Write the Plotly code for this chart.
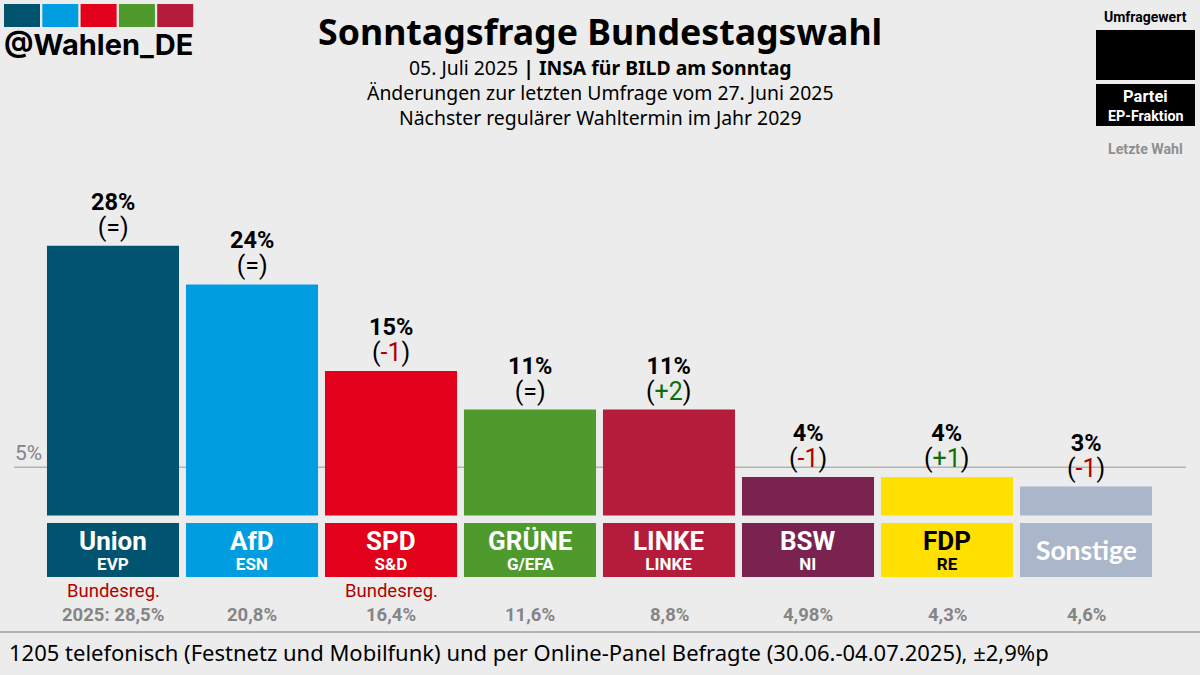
import plotly.graph_objects as go

# Umfragewerte
parteien = ["Union", "AfD", "SPD", "GRÜNE", "LINKE", "BSW", "FDP", "Sonstige"]
fraktionen = ["EVP", "ESN", "S&D", "G/EFA", "LINKE", "NI", "RE", ""]
werte = [28, 24, 15, 11, 11, 4, 4, 3]
aenderungen = ["=", "=", "-1", "=", "+2", "-1", "+1", "-1"]
letzte_wahl = ["2025: 28,5%", "20,8%", "16,4%", "11,6%", "8,8%", "4,98%", "4,3%", "4,6%"]
regierung = ["Bundesreg.", "", "Bundesreg.", "", "", "", "", ""]
farben = ["#005470", "#009ee0", "#e2001a", "#4f9a2c", "#b51c3c", "#7a2350", "#ffe000", "#aab6c9"]
textfarben = ["white", "white", "white", "white", "white", "white", "black", "white"]
logo_farben = ["#005470", "#009ee0", "#e2001a", "#4f9a2c", "#b51c3c"]

W, H = 1200, 675
PX_PRO_PROZENT = 9.63
Y0 = 515.5  # Pixelzeile der Nulllinie
ROBOTO = "Roboto"
NOTO = "Noto Sans"
GRAU = "#858585"


def px_y(y):
    return 1 - y / H


def px_x(x):
    return x / W


def text(x, y, s, size, color="black", font=ROBOTO, xref="paper", anchor="center"):
    fig.add_annotation(
        x=x, y=px_y(y), xref=xref, yref="paper", text=s, showarrow=False,
        xanchor=anchor, yanchor="middle", align="center",
        font=dict(family=font, size=size, color=color),
    )


def box(x0, y0, x1, y1, color, layer="above"):
    fig.add_shape(
        type="rect", xref="paper", yref="paper", layer=layer,
        x0=px_x(x0), x1=px_x(x1), y0=px_y(y0), y1=px_y(y1),
        fillcolor=color, line_width=0,
    )


fig = go.Figure()
idx = list(range(len(parteien)))

# Balken
fig.add_trace(go.Bar(x=idx, y=werte, width=0.95, marker=dict(color=farben, line_width=0), hoverinfo="skip"))

# Namensfelder unter den Balken
box_unten = (577 - Y0) / PX_PRO_PROZENT
box_oben = (523 - Y0) / PX_PRO_PROZENT
fig.add_trace(go.Bar(
    x=idx, y=[box_unten - box_oben] * len(idx), base=-box_unten, width=0.95,
    marker=dict(color=farben, line_width=0), hoverinfo="skip",
))

# 5%-Linie
fig.add_shape(type="line", xref="paper", yref="y", layer="below",
              x0=px_x(14), x1=px_x(1186), y0=5, y1=5, line=dict(color="#b4b4b4", width=1.5))
text(px_x(28), 453, "5%", 21, GRAU)

for i in idx:
    top = Y0 - werte[i] * PX_PRO_PROZENT
    a = aenderungen[i]
    if a == "=":
        inner = "="
    else:
        c = "#b00000" if a.startswith("-") else "#0b6e0b"
        inner = f'<span style="color:{c}">{a}</span>'
    # Wert und Aenderung als ein Label, Zeilenabstand kommt von der Grundgroesse
    label = f'<span style="font-size:23.5px"><b>{werte[i]}%</b></span><br><span style="font-size:25px">({inner})</span>'
    text(i, top - 31, label, 20, xref="x")

    if fraktionen[i]:
        name = (f'<span style="font-size:26px"><b>{parteien[i]}</b></span><br>'
                f'<span style="font-size:17px"><b>{fraktionen[i]}</b></span>')
        text(i, 549.5, name, 15, textfarben[i], xref="x")
    else:
        text(i, 550, f"<b>{parteien[i]}</b>", 26.4, textfarben[i], font="Lato", xref="x")

    if regierung[i]:
        text(i, 591, regierung[i], 18.5, "#b00000", xref="x")
    text(i, 615, f"<b>{letzte_wahl[i]}</b>", 18.5, GRAU, xref="x")

# Kopf
text(0.5, 31, "<b>Sonntagsfrage Bundestagswahl</b>", 35.7, font=NOTO)
text(0.5, 67, "05. Juli 2025 <b>| INSA für BILD am Sonntag</b>", 19.4, font=NOTO)
text(0.5, 92, "Änderungen zur letzten Umfrage vom 27. Juni 2025", 19.4, font=NOTO)
text(0.5, 118, "Nächster regulärer Wahltermin im Jahr 2029", 19.4, font=NOTO)

# Logo
for n, c in enumerate(logo_farben):
    links = 4 + n * 38.3
    box(links, 4, links + 36, 27, c)
text(px_x(2), 45, "<b>@Wahlen_DE</b>", 29, font="Inter", anchor="left")

# Legende
text(px_x(1145.5), 17, "<b>Umfragewert</b>", 14)
box(1096, 30, 1195, 80, "black")
box(1096, 84, 1195, 126, "black")
text(px_x(1145.5), 96, "<b>Partei</b>", 16.5, "white")
text(px_x(1145.5), 116, "<b>EP-Fraktion</b>", 14.3, "white")
text(px_x(1145.5), 149, "<b>Letzte Wahl</b>", 14.2, "#8f8f8f")

# Fusszeile
fig.add_shape(type="line", xref="paper", yref="paper", x0=0, x1=1, y0=px_y(632), y1=px_y(632),
              line=dict(color="#b4b4b4", width=2))
text(px_x(7), 652, "1205 telefonisch (Festnetz und Mobilfunk) und per Online-Panel Befragte (30.06.-04.07.2025), ±2,9%p",
     22, font=NOTO, anchor="left")

fig.update_layout(
    width=W, height=H, margin=dict(l=0, r=0, t=0, b=0),
    paper_bgcolor="#ececec", plot_bgcolor="#ececec",
    showlegend=False, barmode="overlay",
    xaxis=dict(range=[-113 / 139, (W - 113) / 139], visible=False, fixedrange=True),
    yaxis=dict(range=[-(H - Y0) / PX_PRO_PROZENT, Y0 / PX_PRO_PROZENT], visible=False, fixedrange=True),
)

# Seitenrand des Browsers entfernen
fig.write_html(
    "out.html",
    config={"displayModeBar": False},
    post_script="document.body.style.margin='0';document.body.style.overflow='hidden';",
)
